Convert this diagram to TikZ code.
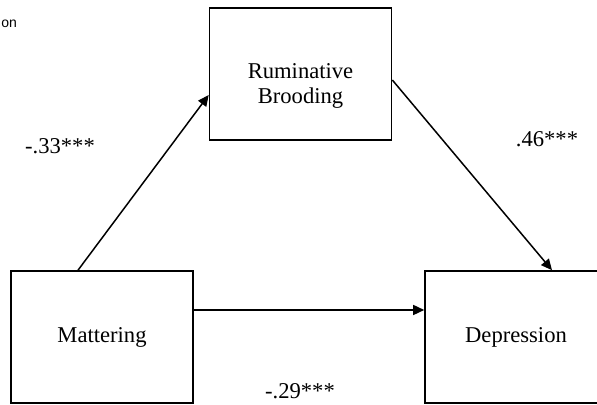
\documentclass[tikz,border=0pt]{standalone}
\usepackage{fontspec}
\setmainfont{Liberation Serif}
\newfontfamily\cropfont{Liberation Sans}
\usepackage{tikz}
\usetikzlibrary{arrows.meta,positioning}

\begin{document}
\begin{tikzpicture}[x=0.5pt,y=0.5pt,>={Triangle[length=5.5pt,width=5pt]},
  varbox/.style={rectangle,draw=black,line width=0.8pt,fill=white,minimum width=91pt,minimum height=66pt,inner sep=0pt,align=center,font=\fontsize{11.3}{12.5}\selectfont},
  effect/.style={->,line width=0.75pt,black},
  coef/.style={font=\fontsize{11.3}{12.5}\selectfont}]
  \useasboundingbox (0,0) rectangle (597,405);
  % Mediation model: mattering -> rumination -> depression.
  \node[varbox] (rum) at (300.5,331) {};
  \node[coef,align=center] (rumlabel) at ([yshift=-6pt]rum.center) {Ruminative\\Brooding};
  \node[varbox] (mat) at (102,68) {Mattering};
  \node[varbox] (dep) at (516,68) {Depression};
  \draw[effect] ([xshift=-12pt]mat.north) -- ([yshift=-10.5pt]rum.west);
  \draw[effect] ([yshift=-3pt]rum.east) -- ([xshift=18pt]dep.north);
  \draw[effect] ([yshift=13.5pt]mat.east) -- ([yshift=13.5pt]dep.west);
  \node[coef] (a) at (60,259) {-.33***};
  \node[coef] (b) at (547,266) {.46***};
  \node[coef] (c) at (300,14) {-.29***};
  \node[anchor=west,inner sep=0pt,font=\cropfont\fontsize{7}{8}\selectfont] (crop) at (1,381) {on};
\end{tikzpicture}
\end{document}
